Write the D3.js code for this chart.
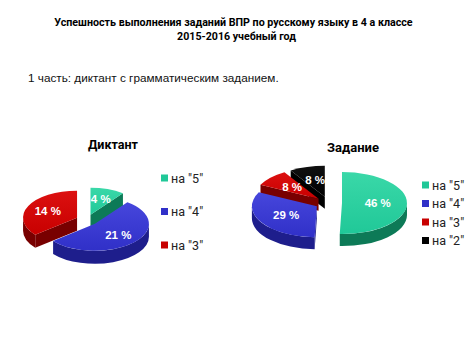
<!DOCTYPE html>
<html><head><meta charset="utf-8">
<script src="https://cdn.jsdelivr.net/npm/d3@7/dist/d3.min.js"></script>
<style>body{margin:0;background:#fff}svg{display:block}</style>
</head><body>
<svg id="c" width="474" height="355"></svg>
<script>
// ---- data ----
const titleLines = ["Успешность выполнения заданий ВПР по русскому языку в 4 а классе", "2015-2016 учебный год"];
const subtitle = "1 часть: диктант с грамматическим заданием.";
const chart1Title = "Диктант";
const chart1Categories = ['на "5"', 'на "4"', 'на "3"'];
const chart1Values = [4, 21, 14];
const chart2Title = "Задание";
const chart2Categories = ['на "5"', 'на "4"', 'на "3"', 'на "2"'];
const chart2Values = [46, 29, 8, 8];

const palette = {
  'на "5"': {top: "#20c898", topLight: "#3ad8a8", side: "#0d7a57"},
  'на "4"': {top: "#3030c8", topLight: "#4646dc", side: "#1e1e8c"},
  'на "3"': {top: "#c80000", topLight: "#dc1010", side: "#780000"},
  'на "2"': {top: "#000000", topLight: "#101010", side: "#000000"}
};

const svg = d3.select("#c");
const font = "Roboto, 'Open Sans', sans-serif";

function fit(sel, target, base) {
  const w = sel.node().getComputedTextLength();
  sel.attr("font-size", Math.min(base * 1.15, base * target / w));
}

// titles
const t1 = svg.append("text").attr("x", 233.5).attr("y", 26).attr("text-anchor", "middle")
  .attr("font-family", font).attr("font-weight", "bold").attr("font-size", 11).attr("fill", "#000").text(titleLines[0]);
fit(t1, 359, 11);
const t2 = svg.append("text").attr("x", 236.5).attr("y", 40).attr("text-anchor", "middle")
  .attr("font-family", font).attr("font-weight", "bold").attr("font-size", 11).attr("fill", "#000").text(titleLines[1]);
fit(t2, 119, 11);
const st = svg.append("text").attr("x", 28).attr("y", 82)
  .attr("font-family", "'Liberation Sans', Arial, sans-serif").attr("font-size", 13).attr("fill", "#111").text(subtitle);
fit(st, 251, 13);

const defs = svg.append("defs");
Object.entries(palette).forEach(([k, p], i) => {
  const g = defs.append("linearGradient").attr("id", "g" + i).attr("x1", 0).attr("y1", 0).attr("x2", 0).attr("y2", 1);
  g.append("stop").attr("offset", 0).attr("stop-color", p.topLight);
  g.append("stop").attr("offset", 1).attr("stop-color", p.top);
  p.grad = "url(#g" + i + ")";
});

function pie3d(opts) {
  const {cats, vals, cx, cy, rx, ry, h, explode, labelR, title, titleX, titleY, titleW, legX, legY, legStep} = opts;
  const g = svg.append("g");
  const pie = d3.pie().sort(null).startAngle(0).endAngle(2 * Math.PI);
  const arcs = pie(vals).map((d, i) => {
    const m = (d.startAngle + d.endAngle) / 2;
    const ox = cx + explode * Math.sin(m);
    const oy = cy - explode * Math.cos(m) * ry / rx;
    return {d, i, m, ox, oy, cat: cats[i]};
  });
  const P = (s, a) => [s.ox + rx * Math.sin(a), s.oy - ry * Math.cos(a)];
  arcs.sort((a, b) => (a.oy - ry * Math.cos(a.m) * 0.5) - (b.oy - ry * Math.cos(b.m) * 0.5));
  arcs.forEach(s => {
    const c = palette[s.cat];
    const a0 = s.d.startAngle, a1 = s.d.endAngle;
    const face = (a) => {
      const p = P(s, a);
      const path = d3.path();
      path.moveTo(s.ox, s.oy); path.lineTo(p[0], p[1]); path.lineTo(p[0], p[1] + h); path.lineTo(s.ox, s.oy + h); path.closePath();
      g.append("path").attr("d", path.toString()).attr("fill", c.side);
    };
    if (Math.sin(a0) < -1e-6) face(a0);
    if (Math.sin(a1) > 1e-6) face(a1);
    const s0 = Math.max(a0, Math.PI / 2), s1 = Math.min(a1, 3 * Math.PI / 2);
    if (s1 > s0) {
      const p0 = P(s, s0), p1 = P(s, s1);
      const dStr = `M${p0[0]},${p0[1]} A${rx},${ry} 0 0 1 ${p1[0]},${p1[1]} L${p1[0]},${p1[1] + h} A${rx},${ry} 0 0 0 ${p0[0]},${p0[1] + h} Z`;
      g.append("path").attr("d", dStr).attr("fill", c.side);
    }
    const p0 = P(s, a0), p1 = P(s, a1);
    const large = (a1 - a0) > Math.PI ? 1 : 0;
    g.append("path").attr("d", `M${s.ox},${s.oy} L${p0[0]},${p0[1]} A${rx},${ry} 0 ${large} 1 ${p1[0]},${p1[1]} Z`)
      .attr("fill", c.grad);
  });
  arcs.forEach(s => {
    const lx = s.ox + labelR * rx * Math.sin(s.m), ly = s.oy - labelR * ry * Math.cos(s.m);
    g.append("text").attr("x", lx).attr("y", ly + 4).attr("text-anchor", "middle")
      .attr("font-family", "'Liberation Sans', Arial, sans-serif").attr("font-weight", "bold").attr("font-size", 11.5)
      .attr("fill", "#fff").text(s.d.value + " %");
  });
  const tt = svg.append("text").attr("x", titleX).attr("y", titleY).attr("text-anchor", "middle")
    .attr("font-family", font).attr("font-weight", "bold").attr("font-size", 14).attr("fill", "#000").text(title);
  fit(tt, titleW, 14);
  const leg = svg.append("g");
  cats.forEach((k, i) => {
    const y = legY + i * legStep;
    leg.append("rect").attr("x", legX).attr("y", y - 3.5).attr("width", 7).attr("height", 7).attr("fill", palette[k].top);
    leg.append("text").attr("x", legX + 10).attr("y", y + 4.5).attr("font-family", font).attr("font-size", 12.5)
      .attr("fill", "#222").text(k);
  });
}

pie3d({cats: chart1Categories, vals: chart1Values, cx: 87, cy: 220, rx: 54, ry: 27, h: 13, explode: 11, labelR: 0.6,
  title: chart1Title, titleX: 113, titleY: 149, titleW: 50, legX: 161, legY: 178, legStep: 33.5});
pie3d({cats: chart2Categories, vals: chart2Values, cx: 328.5, cy: 203, rx: 65, ry: 31, h: 12, explode: 13.5, labelR: 0.55,
  title: chart2Title, titleX: 353, titleY: 152, titleW: 52, legX: 422, legY: 185, legStep: 18.5});
</script>
</body></html>
